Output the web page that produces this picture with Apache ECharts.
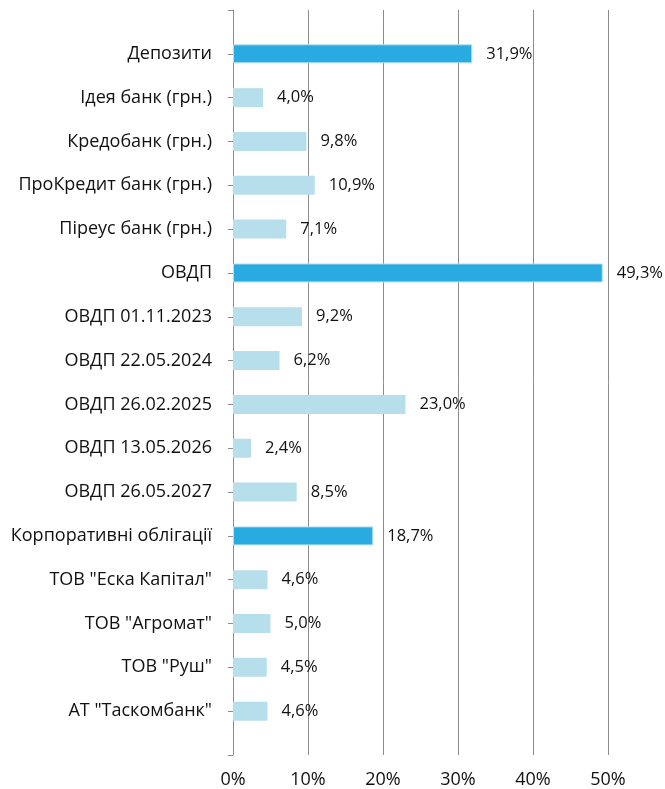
<!DOCTYPE html>
<html>
<head>
<meta charset="utf-8">
<script src="https://cdn.jsdelivr.net/npm/echarts@6/dist/echarts.min.js"></script>
<style>
  html, body { margin: 0; padding: 0; background: #fff; }
  #chart { width: 665px; height: 789px; }
</style>
</head>
<body>
<div id="chart"></div>
<script>
// categories from top to bottom
const categories = [
  'Депозити',
  'Ідея банк (грн.)',
  'Кредобанк (грн.)',
  'ПроКредит банк (грн.)',
  'Піреус банк (грн.)',
  'ОВДП',
  'ОВДП 01.11.2023',
  'ОВДП 22.05.2024',
  'ОВДП 26.02.2025',
  'ОВДП 13.05.2026',
  'ОВДП 26.05.2027',
  'Корпоративні облігації',
  'ТОВ "Еска Капітал"',
  'ТОВ "Агромат"',
  'ТОВ "Руш"',
  'АТ "Таскомбанк"'
]
const values = [31.9, 4.0, 9.8, 10.9, 7.1, 49.3, 9.2, 6.2, 23.0, 2.4, 8.5, 18.7, 4.6, 5.0, 4.5, 4.6]
// group totals drawn in darker blue
const groupRows = ['Депозити', 'ОВДП', 'Корпоративні облігації']
const xTicks = [0, 10, 20, 30, 40, 50]

const chart = echarts.init(document.getElementById('chart'))

const font = '"Open Sans", "Noto Sans", sans-serif'
// empty slots at both ends so the axis runs half a step past the first/last bar
const yData = [''].concat(categories, [''])
const barData = [null].concat(values.map((v, i) => {
  const isGroup = groupRows.includes(categories[i])
  return {
    value: v,
    itemStyle: isGroup
      ? { color: '#29abe2', borderColor: '#b8e0ee', borderWidth: 1 }
      : { color: '#b7dfeb' }
  }
}), [null])

const option = {
  animation: false,
  grid: { left: 233, right: 57, top: 10, bottom: 32 },
  xAxis: {
    type: 'value',
    min: xTicks[0],
    max: xTicks[xTicks.length - 1],
    interval: 10,
    axisLine: { show: false },
    axisTick: { show: false },
    splitLine: { lineStyle: { color: '#8c8c8c', width: 1 } },
    axisLabel: {
      formatter: '{value}%',
      fontFamily: font,
      fontSize: 18,
      color: '#111',
      margin: 16
    }
  },
  yAxis: {
    type: 'category',
    inverse: true,
    boundaryGap: false,
    data: yData,
    axisLine: { lineStyle: { color: '#8c8c8c', width: 1 } },
    axisTick: { length: 5, lineStyle: { color: '#8c8c8c' } },
    axisLabel: {
      fontFamily: font,
      fontSize: 18,
      color: '#111',
      margin: 21,
      interval: 0
    }
  },
  series: [{
    type: 'bar',
    data: barData,
    barWidth: 19,
    label: {
      show: true,
      position: 'right',
      distance: 14,
      fontFamily: font,
      fontSize: 16.5,
      color: '#111',
      formatter: p => p.value.toFixed(1).replace('.', ',') + '%'
    }
  }]
}

chart.setOption(option)
</script>
</body>
</html>
